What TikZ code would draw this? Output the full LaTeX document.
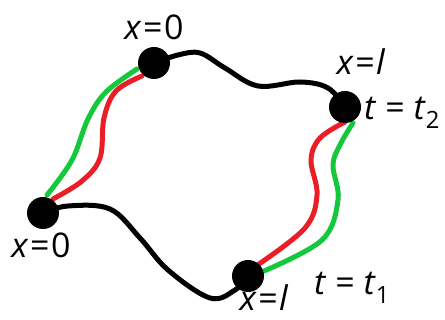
\documentclass[tikz,border=0pt]{standalone}
\usepackage{fontspec}
\setmainfont{Open Sans}
\usetikzlibrary{backgrounds}
\definecolor{cgreen}{RGB}{20,200,60}
\definecolor{cred}{RGB}{235,30,40}
\newcommand{\eqk}{\kern1.5pt=\kern1.5pt}
\tikzset{
  dot/.style={circle, fill=black, inner sep=0pt, minimum size=32pt},
  wire/.style={line width=5pt, line cap=round, black},
  gwire/.style={line width=5pt, line cap=round, cgreen},
  rwire/.style={line width=5pt, line cap=round, cred},
  lab/.style={inner sep=0pt, anchor=base, font=\fontsize{34}{36}\selectfont},
  labw/.style={lab, anchor=base west}
}
\begin{document}
\begin{tikzpicture}[x=1pt, y=-1pt]
\useasboundingbox (0,0) rectangle (445,320);
\node[dot] (A) at (154,63) {};
\node[dot] (B) at (345,107) {};
\node[dot] (C) at (43,213) {};
\node[dot] (D) at (248,276) {};
\coordinate (g1s) at (47,195);
\coordinate (g1e) at (137,69);
\coordinate (r1s) at (53,199);
\coordinate (r1e) at (142,76);
\coordinate (r2s) at (345,122);
\coordinate (r2e) at (259,264);
\coordinate (g2s) at (353,123);
\coordinate (g2e) at (264,271);
\begin{scope}[on background layer]
\draw[wire] plot[smooth, tension=0.6] coordinates {(A) (178,55) (200,53) (225,68) (258,86) (300,82) (328,88) (B)};
\draw[wire] plot[smooth, tension=0.6] coordinates {(C) (68,206) (110,209) (140,238) (168,270) (210,298) (235,290) (D)};
\draw[gwire] plot[smooth, tension=0.6] coordinates {(g1s) (72,160) (88,119) (106,92) (g1e)};
\draw[rwire] plot[smooth, tension=0.6] coordinates {(r1s) (82,181) (100,158) (104,118) (116,91) (r1e)};
\draw[rwire] plot[smooth, tension=0.6] coordinates {(r2s) (320,138) (311,160) (317,195) (305,228) (r2e)};
\draw[gwire] plot[smooth, tension=0.6] coordinates {(g2s) (341,143) (333,165) (338,200) (322,240) (g2e)};
\end{scope}
\node[lab] (l1) at (154,40) {\textit{x}\eqk0};
\node[lab] (l2) at (361,75) {\textit{x}\eqk\textit{l}};
\node[labw] (l3) at (364,120) {\textit{t} = \textit{t}\textsubscript{2}};
\node[lab] (l4) at (41,258) {\textit{x}\eqk0};
\node[lab] (l5) at (264,311) {\textit{x}\eqk\textit{l}};
\node[labw] (l6) at (314,295) {\textit{t} = \textit{t}\textsubscript{1}};
\end{tikzpicture}
\end{document}
